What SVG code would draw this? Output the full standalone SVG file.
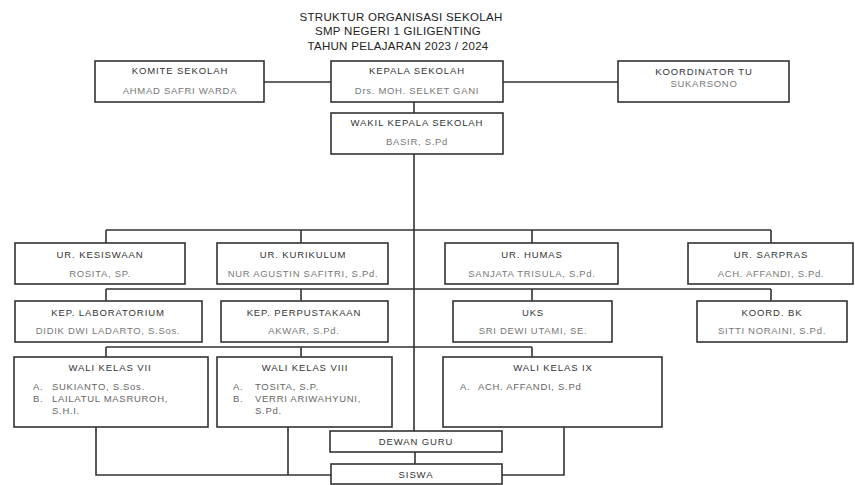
<svg xmlns="http://www.w3.org/2000/svg" width="855" height="485" viewBox="0 0 855 485">
<style>
.bx{fill:#fff;stroke:#333;stroke-width:1.6}
.ln{fill:none;stroke:#333;stroke-width:1.6}
.t{font-family:"Liberation Sans",Arial,sans-serif;font-size:9.5px;fill:#333;text-anchor:middle;letter-spacing:0.9px}
.n{font-family:"Liberation Sans",Arial,sans-serif;font-size:9.5px;fill:#777;text-anchor:middle;letter-spacing:0.7px}
.i{font-family:"Liberation Sans",Arial,sans-serif;font-size:9.5px;fill:#666;letter-spacing:0.7px}
.h{font-family:"Liberation Sans",Arial,sans-serif;font-size:11.5px;fill:#222;text-anchor:middle;letter-spacing:0.3px}
</style>
<rect width="855" height="485" fill="#fff"/>
<g id="title">
<text class="h" x="401" y="21">STRUKTUR ORGANISASI SEKOLAH</text>
<text class="h" x="398" y="35">SMP NEGERI 1 GILIGENTING</text>
<text class="h" x="398" y="50">TAHUN PELAJARAN 2023 / 2024</text>
</g>
<g id="connectors">
<path class="ln" d="M264 82H331M503 82H618M414 102V431"/>
<path class="ln" d="M106 230H771M106 230V243M301 230V243M532 230V243M771 230V243"/>
<path class="ln" d="M106 289H771M106 289V301M301 289V301M532 289V301M771 289V301"/>
<path class="ln" d="M106 347H532M106 347V357M301 347V357M532 347V357"/>
<path class="ln" d="M96 418V475H331M288 418V475M564 417V475H502M415 452V464"/>
</g>
<g id="komite"><rect class="bx" x="95" y="61" width="169" height="41"/><text class="t" x="180" y="74">KOMITE SEKOLAH</text><text class="n" x="180" y="94">AHMAD SAFRI WARDA</text></g>
<g id="kepala"><rect class="bx" x="331" y="61" width="172" height="41"/><text class="t" x="417" y="74">KEPALA SEKOLAH</text><text class="n" x="417" y="94">Drs. MOH. SELKET GANI</text></g>
<g id="koordinator-tu"><rect class="bx" x="618" y="61" width="171" height="41"/><text class="t" x="704" y="75">KOORDINATOR TU</text><text class="n" x="704" y="87">SUKARSONO</text></g>
<g id="wakil"><rect class="bx" x="331" y="113" width="172" height="41"/><text class="t" x="417" y="126">WAKIL KEPALA SEKOLAH</text><text class="n" x="417" y="145">BASIR, S.Pd</text></g>
<g id="kesiswaan"><rect class="bx" x="15" y="243" width="170" height="41"/><text class="t" x="100" y="258">UR. KESISWAAN</text><text class="n" x="100" y="277">ROSITA, SP.</text></g>
<g id="kurikulum"><rect class="bx" x="217" y="243" width="171" height="41"/><text class="t" x="303" y="258">UR. KURIKULUM</text><text class="n" x="303" y="277">NUR AGUSTIN SAFITRI, S.Pd.</text></g>
<g id="humas"><rect class="bx" x="445" y="243" width="173" height="41"/><text class="t" x="532" y="258">UR. HUMAS</text><text class="n" x="532" y="277">SANJATA TRISULA, S.Pd.</text></g>
<g id="sarpras"><rect class="bx" x="688" y="243" width="165" height="41"/><text class="t" x="771" y="258">UR. SARPRAS</text><text class="n" x="771" y="277">ACH. AFFANDI, S.Pd.</text></g>
<g id="laboratorium"><rect class="bx" x="15" y="301" width="187" height="41"/><text class="t" x="108" y="316">KEP. LABORATORIUM</text><text class="n" x="108" y="334">DIDIK DWI LADARTO, S.Sos.</text></g>
<g id="perpustakaan"><rect class="bx" x="221" y="301" width="167" height="41"/><text class="t" x="304" y="316">KEP. PERPUSTAKAAN</text><text class="n" x="304" y="334">AKWAR, S.Pd.</text></g>
<g id="uks"><rect class="bx" x="453" y="301" width="159" height="41"/><text class="t" x="533" y="316">UKS</text><text class="n" x="533" y="334">SRI DEWI UTAMI, SE.</text></g>
<g id="koord-bk"><rect class="bx" x="697" y="301" width="150" height="41"/><text class="t" x="772" y="316">KOORD. BK</text><text class="n" x="772" y="334">SITTI NORAINI, S.Pd.</text></g>
<g id="wali-7"><rect class="bx" x="14" y="357" width="194" height="70"/><text class="t" x="110" y="371">WALI KELAS VII</text>
<text class="i" x="33" y="390">A.</text><text class="i" x="52" y="390">SUKIANTO, S.Sos.</text>
<text class="i" x="33" y="402">B.</text><text class="i" x="52" y="402">LAILATUL MASRUROH,</text>
<text class="i" x="52" y="414">S.H.I.</text></g>
<g id="wali-8"><rect class="bx" x="217" y="357" width="175" height="70"/><text class="t" x="305" y="371">WALI KELAS VIII</text>
<text class="i" x="233" y="390">A.</text><text class="i" x="255" y="390">TOSITA, S.P.</text>
<text class="i" x="233" y="402">B.</text><text class="i" x="255" y="402">VERRI ARIWAHYUNI,</text>
<text class="i" x="255" y="414">S.Pd.</text></g>
<g id="wali-9"><rect class="bx" x="443" y="357" width="219" height="70"/><text class="t" x="553" y="371">WALI KELAS IX</text>
<text class="i" x="460" y="390">A.</text><text class="i" x="478" y="390">ACH. AFFANDI, S.Pd</text></g>
<g id="dewan-guru"><rect class="bx" x="330" y="431" width="172" height="21"/><text class="t" x="416" y="445">DEWAN GURU</text></g>
<g id="siswa"><rect class="bx" x="331" y="464" width="171" height="20"/><text class="t" x="416" y="478">SISWA</text></g>
</svg>
